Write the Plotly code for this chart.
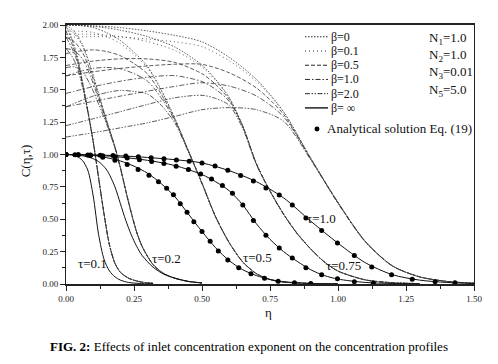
import plotly.graph_objects as go

# ---------------- data ----------------
beta_labels = ["β=0", "β=0.1", "β=0.5", "β=1.0", "β=2.0", "β= ∞"]

# tau = 0.1
eta_t01 = [0, 0.02, 0.04, 0.06, 0.08, 0.1, 0.12, 0.14, 0.16, 0.18, 0.2, 0.23, 0.27, 0.32]
c_t01_b0 = [2.0, 1.9, 1.77, 1.57, 1.34, 1.1, 0.82, 0.54, 0.3, 0.16, 0.09, 0.045, 0.018, 0.005]
c_t01_b01 = [1.99, 1.893, 1.765, 1.568, 1.34, 1.1, 0.82, 0.54, 0.3, 0.16, 0.09, 0.045, 0.018, 0.005]
c_t01_b05 = [1.951, 1.864, 1.747, 1.559, 1.338, 1.1, 0.82, 0.54, 0.3, 0.16, 0.09, 0.045, 0.018, 0.005]
c_t01_b1 = [1.905, 1.83, 1.724, 1.548, 1.336, 1.098, 0.818, 0.538, 0.3, 0.16, 0.09, 0.045, 0.018, 0.005]
c_t01_b2 = [1.818, 1.765, 1.682, 1.526, 1.332, 1.095, 0.815, 0.536, 0.298, 0.159, 0.09, 0.045, 0.018, 0.005]
c_t01_binf = [1.0, 0.998, 0.985, 0.955, 0.88, 0.68, 0.38, 0.19, 0.1, 0.055, 0.03, 0.012, 0.004, 0.001]

# tau = 0.2
eta_t02 = [0, 0.03, 0.06, 0.09, 0.12, 0.15, 0.18, 0.2, 0.22, 0.24, 0.26, 0.28, 0.32, 0.36, 0.4, 0.45, 0.5]
c_t02_b0 = [2.0, 1.95, 1.85, 1.68, 1.47, 1.26, 1.06, 0.9, 0.72, 0.55, 0.4, 0.29, 0.15, 0.08, 0.045, 0.02, 0.008]
c_t02_b01 = [1.98, 1.934, 1.839, 1.672, 1.466, 1.259, 1.06, 0.9, 0.72, 0.55, 0.4, 0.29, 0.15, 0.08, 0.045, 0.02, 0.008]
c_t02_b05 = [1.905, 1.872, 1.791, 1.641, 1.448, 1.252, 1.058, 0.899, 0.72, 0.55, 0.4, 0.29, 0.15, 0.08, 0.045, 0.02, 0.008]
c_t02_b1 = [1.819, 1.802, 1.739, 1.604, 1.427, 1.245, 1.055, 0.897, 0.718, 0.549, 0.4, 0.29, 0.15, 0.08, 0.045, 0.02, 0.008]
c_t02_b2 = [1.67, 1.677, 1.639, 1.536, 1.388, 1.23, 1.048, 0.892, 0.714, 0.546, 0.398, 0.289, 0.15, 0.08, 0.045, 0.02, 0.008]
c_t02_binf = [1.0, 0.998, 0.99, 0.975, 0.945, 0.88, 0.75, 0.62, 0.49, 0.38, 0.29, 0.22, 0.13, 0.075, 0.045, 0.02, 0.008]

# tau = 0.5
eta_t05 = [0, 0.05, 0.1, 0.15, 0.2, 0.25, 0.3, 0.35, 0.4, 0.45, 0.5, 0.55, 0.6, 0.65, 0.7, 0.75, 0.8, 0.9, 1.0]
c_t05_b0 = [2.0, 1.996, 1.98, 1.94, 1.88, 1.79, 1.68, 1.5, 1.28, 1.03, 0.78, 0.52, 0.32, 0.17, 0.08, 0.035, 0.015, 0.004, 0.001]
c_t05_b01 = [1.951, 1.952, 1.942, 1.909, 1.856, 1.772, 1.668, 1.494, 1.279, 1.03, 0.78, 0.52, 0.32, 0.17, 0.08, 0.035, 0.015, 0.004, 0.001]
c_t05_b05 = [1.779, 1.798, 1.808, 1.795, 1.763, 1.702, 1.621, 1.467, 1.271, 1.028, 0.779, 0.52, 0.32, 0.17, 0.08, 0.035, 0.015, 0.004, 0.001]
c_t05_b1 = [1.607, 1.641, 1.665, 1.672, 1.662, 1.624, 1.566, 1.437, 1.262, 1.025, 0.777, 0.519, 0.32, 0.17, 0.08, 0.035, 0.015, 0.004, 0.001]
c_t05_b2 = [1.368, 1.411, 1.451, 1.478, 1.495, 1.487, 1.467, 1.38, 1.244, 1.018, 0.772, 0.516, 0.318, 0.169, 0.08, 0.035, 0.015, 0.004, 0.001]
c_t05_binf = [1.0, 0.998, 0.992, 0.975, 0.95, 0.91, 0.855, 0.775, 0.675, 0.54, 0.405, 0.28, 0.18, 0.11, 0.065, 0.035, 0.018, 0.004, 0.001]

# tau = 0.75
eta_t075 = [0, 0.1, 0.2, 0.3, 0.4, 0.5, 0.55, 0.6, 0.65, 0.7, 0.75, 0.8, 0.85, 0.9, 0.95, 1.0, 1.1, 1.2, 1.3]
c_t075_b0 = [2.0, 1.99, 1.96, 1.91, 1.83, 1.69, 1.58, 1.44, 1.22, 0.93, 0.72, 0.54, 0.39, 0.27, 0.17, 0.1, 0.032, 0.01, 0.003]
c_t075_b01 = [1.928, 1.928, 1.911, 1.872, 1.804, 1.676, 1.572, 1.437, 1.22, 0.93, 0.72, 0.54, 0.39, 0.27, 0.17, 0.1, 0.032, 0.01, 0.003]
c_t075_b05 = [1.687, 1.721, 1.739, 1.738, 1.711, 1.624, 1.541, 1.424, 1.218, 0.929, 0.72, 0.54, 0.39, 0.27, 0.17, 0.1, 0.032, 0.01, 0.003]
c_t075_b1 = [1.472, 1.524, 1.566, 1.597, 1.609, 1.563, 1.503, 1.41, 1.215, 0.927, 0.718, 0.539, 0.39, 0.27, 0.17, 0.1, 0.032, 0.01, 0.003]
c_t075_b2 = [1.223, 1.276, 1.331, 1.387, 1.438, 1.457, 1.433, 1.38, 1.2, 0.92, 0.714, 0.536, 0.388, 0.269, 0.17, 0.1, 0.032, 0.01, 0.003]
c_t075_binf = [1.0, 0.995, 0.98, 0.955, 0.915, 0.845, 0.79, 0.72, 0.61, 0.465, 0.345, 0.25, 0.175, 0.11, 0.065, 0.038, 0.012, 0.004, 0.001]

# tau = 1.0
eta_t1 = [0, 0.1, 0.2, 0.3, 0.4, 0.5, 0.6, 0.7, 0.8, 0.9, 1.0, 1.1, 1.2, 1.3, 1.4, 1.5]
c_t1_b0 = [2.0, 1.994, 1.98, 1.954, 1.92, 1.87, 1.75, 1.58, 1.33, 0.97, 0.63, 0.33, 0.14, 0.055, 0.02, 0.006]
c_t1_b01 = [1.905, 1.91, 1.907, 1.892, 1.87, 1.833, 1.724, 1.566, 1.326, 0.97, 0.63, 0.33, 0.14, 0.055, 0.02, 0.006]
c_t1_b05 = [1.607, 1.639, 1.665, 1.684, 1.697, 1.696, 1.631, 1.514, 1.31, 0.968, 0.629, 0.33, 0.14, 0.055, 0.02, 0.006]
c_t1_b1 = [1.368, 1.41, 1.451, 1.489, 1.526, 1.554, 1.528, 1.452, 1.291, 0.965, 0.627, 0.329, 0.14, 0.055, 0.02, 0.006]
c_t1_b2 = [1.135, 1.168, 1.206, 1.245, 1.294, 1.346, 1.362, 1.346, 1.257, 0.958, 0.622, 0.326, 0.139, 0.055, 0.02, 0.006]
c_t1_binf = [1.0, 0.997, 0.99, 0.977, 0.96, 0.935, 0.875, 0.79, 0.665, 0.485, 0.315, 0.165, 0.072, 0.03, 0.012, 0.004]

# analytical solution Eq. (19) (beta = infinity)
eta_a05 = [0, 0.045, 0.09, 0.135, 0.18, 0.225, 0.265, 0.305, 0.34, 0.37, 0.395, 0.42, 0.445, 0.47,
           0.5, 0.53, 0.56, 0.595, 0.635, 0.68, 0.73, 0.78, 0.84, 0.9]
c_a05 = [1.0, 0.998, 0.992, 0.978, 0.955, 0.922, 0.885, 0.84, 0.79, 0.74, 0.69, 0.62, 0.555, 0.48,
         0.405, 0.33, 0.255, 0.185, 0.125, 0.08, 0.045, 0.022, 0.01, 0.004]
eta_a075 = [0, 0.045, 0.09, 0.135, 0.18, 0.225, 0.27, 0.315, 0.36, 0.405, 0.45, 0.495, 0.535, 0.575,
            0.612, 0.65, 0.689, 0.735, 0.784, 0.832, 0.882, 0.94, 0.998, 1.06, 1.13]
c_a075 = [1.0, 0.999, 0.996, 0.99, 0.983, 0.973, 0.96, 0.945, 0.93, 0.91, 0.885, 0.85, 0.81, 0.76,
          0.7, 0.61, 0.49, 0.376, 0.278, 0.2, 0.126, 0.071, 0.04, 0.018, 0.007]
eta_a1 = [0, 0.033, 0.08, 0.126, 0.173, 0.22, 0.266, 0.313, 0.36, 0.406, 0.453, 0.5, 0.548, 0.595,
          0.642, 0.689, 0.735, 0.784, 0.832, 0.882, 0.94, 0.998, 1.06, 1.124, 1.197, 1.273, 1.357, 1.43]
c_a1 = [1.0, 0.999, 0.997, 0.995, 0.992, 0.988, 0.982, 0.975, 0.967, 0.958, 0.947, 0.935, 0.912, 0.878,
        0.838, 0.795, 0.742, 0.687, 0.611, 0.51, 0.414, 0.316, 0.22, 0.131, 0.071, 0.036, 0.018, 0.01]

tau_labels = ["τ=0.1", "τ=0.2", "τ=0.5", "τ=0.75", "τ=1.0"]
tau_label_eta = [0.096, 0.368, 0.703, 1.022, 0.938]
tau_label_c = [0.16, 0.197, 0.205, 0.144, 0.508]

param_labels = ["N<sub>1</sub>=1.0", "N<sub>2</sub>=1.0", "N<sub>3</sub>=0.01", "N<sub>5</sub>=5.0"]

x_ticks = [0, 0.25, 0.5, 0.75, 1.0, 1.25, 1.5]
y_ticks = [0, 0.25, 0.5, 0.75, 1.0, 1.25, 1.5, 1.75, 2.0]

# ---------------- styling ----------------
FONT = "Liberation Serif"
INK = "#111111"
dashes = ["1.5px,1.5px", "1px,3px", "4px,2px", "5px,2px,1.5px,2px",
          "5px,1.5px,1.5px,1.5px,1.5px,1.5px", "solid"]

groups = [
    (eta_t01, [c_t01_b0, c_t01_b01, c_t01_b05, c_t01_b1, c_t01_b2, c_t01_binf]),
    (eta_t02, [c_t02_b0, c_t02_b01, c_t02_b05, c_t02_b1, c_t02_b2, c_t02_binf]),
    (eta_t05, [c_t05_b0, c_t05_b01, c_t05_b05, c_t05_b1, c_t05_b2, c_t05_binf]),
    (eta_t075, [c_t075_b0, c_t075_b01, c_t075_b05, c_t075_b1, c_t075_b2, c_t075_binf]),
    (eta_t1, [c_t1_b0, c_t1_b01, c_t1_b05, c_t1_b1, c_t1_b2, c_t1_binf]),
]

fig = go.Figure()
for eta, series in groups:
    for k, c in enumerate(series):
        fig.add_trace(go.Scatter(
            x=eta, y=c, mode="lines", showlegend=False,
            line=dict(color=INK if k == 5 else "#333333", width=1.0 if k == 5 else 0.8,
                      dash=dashes[k], shape="spline", smoothing=0.8),
            hoverinfo="skip"))

for ex, cy in [(eta_a05, c_a05), (eta_a075, c_a075), (eta_a1, c_a1)]:
    fig.add_trace(go.Scatter(x=ex, y=cy, mode="markers", showlegend=False,
                             marker=dict(color="#000000", size=5)))

# tau labels
for t, xe, yc in zip(tau_labels, tau_label_eta, tau_label_c):
    fig.add_annotation(x=xe, y=yc, text=t, showarrow=False,
                       font=dict(family=FONT, size=13, color=INK))

# The page body adds an 8px offset; the figure is sized so that the plot area
# sits at window pixels x 66..474, y 20..284.
def px_x(p):
    return (p - 66) / 408.0

def px_y(p):
    return (284 - p) / 264.0

legend_rows = [32, 46.5, 61, 75.5, 90, 104.5]
shapes = []
for lab, d, ry in zip(beta_labels, dashes, legend_rows):
    shapes.append(dict(type="line", xref="paper", yref="paper",
                       x0=px_x(305), x1=px_x(328), y0=px_y(ry), y1=px_y(ry),
                       line=dict(color=INK, width=1.4 if d == "solid" else 0.9, dash=d)))
    fig.add_annotation(xref="paper", yref="paper", x=px_x(329), y=px_y(ry), text=lab,
                       showarrow=False, xanchor="left", yanchor="middle",
                       font=dict(family=FONT, size=12, color=INK))

param_rows = [34, 51, 68, 87]
for lab, ry in zip(param_labels, param_rows):
    fig.add_annotation(xref="paper", yref="paper", x=px_x(427), y=px_y(ry), text=lab,
                       showarrow=False, xanchor="left", yanchor="middle",
                       font=dict(family=FONT, size=13, color=INK))

shapes.append(dict(type="circle", xref="paper", yref="paper", fillcolor="#000000",
                   line=dict(color="#000000", width=0),
                   x0=px_x(314.5), x1=px_x(319.5), y0=px_y(128.5), y1=px_y(123.5)))
fig.add_annotation(xref="paper", yref="paper", x=px_x(325), y=px_y(126),
                   text="Analytical solution Eq. (19)", showarrow=False,
                   xanchor="left", yanchor="middle",
                   font=dict(family=FONT, size=13, color=INK))

# axis titles and caption
fig.add_annotation(xref="paper", yref="paper", x=px_x(25), y=px_y(159), text="C(η,τ)",
                   textangle=-90, showarrow=False, xanchor="center", yanchor="middle",
                   font=dict(family=FONT, size=13, color=INK))
fig.add_annotation(xref="paper", yref="paper", x=px_x(268), y=px_y(313), text="η",
                   showarrow=False, xanchor="center", yanchor="middle",
                   font=dict(family=FONT, size=13, color=INK))
fig.add_annotation(xref="paper", yref="paper", x=px_x(249), y=px_y(348),
                   text="<b>FIG. 2:</b> Effects of inlet concentration exponent on the concentration profiles",
                   showarrow=False, xanchor="center", yanchor="middle",
                   font=dict(family=FONT, size=13, color="#000000"))

axis_common = dict(showgrid=False, zeroline=False, showline=True, mirror=True,
                   linecolor="#222222", ticks="outside", ticklen=5, tickwidth=1,
                   tickcolor="#222222", tickformat=".2f",
                   tickfont=dict(family=FONT, size=9, color="#222222"))

fig.update_layout(
    width=490, height=356,
    margin=dict(l=58, r=24, t=12, b=80),
    paper_bgcolor="white", plot_bgcolor="white",
    shapes=shapes,
    xaxis=dict(range=[0, 1.5], tickvals=x_ticks, linewidth=1.6,
               minor=dict(dtick=0.125, ticks="outside", ticklen=3, tickcolor="#222222"),
               **axis_common),
    yaxis=dict(range=[0, 2.0], tickvals=y_ticks, linewidth=1.0,
               minor=dict(dtick=0.125, ticks="outside", ticklen=3, tickcolor="#222222"),
               **axis_common),
)

fig.write_html("out.html")
